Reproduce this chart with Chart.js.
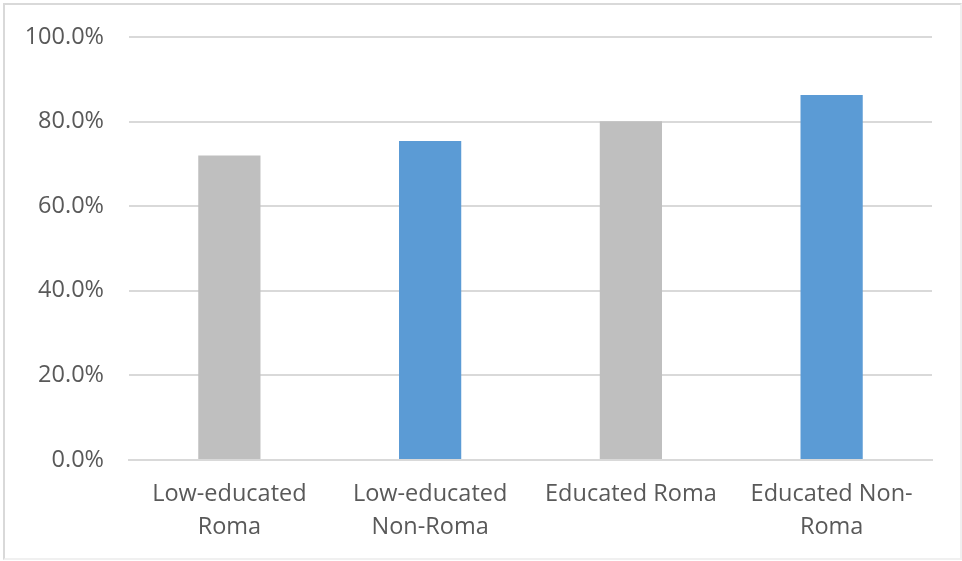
<!DOCTYPE html>
<html>
<head>
<meta charset="utf-8">
<script src="https://cdn.jsdelivr.net/npm/chart.js@4.4.1/dist/chart.umd.min.js"></script>
<style>
  html, body { margin: 0; padding: 0; background: #fff; }
  #frame {
    position: absolute; left: 3px; top: 3px; width: 955px; height: 553px;
    border: 2px solid #d9d9d9; border-right-color: #f0f0f0; border-bottom-color: #f0f0f0;
  }
  #wrap { position: absolute; left: 0; top: 0; width: 962px; height: 561px; }
</style>
</head>
<body>
<div id="frame"></div>
<div id="wrap"><canvas id="chart"></canvas></div>
<script>
// categories and values (share, %)
const categories = [
  ['Low-educated', 'Roma'],
  ['Low-educated', 'Non-Roma'],
  'Educated Roma',
  ['Educated Non-', 'Roma']
];
const shares = [72.0, 75.4, 80.1, 86.3];
const barColors = ['#bfbfbf', '#5b9bd5', '#bfbfbf', '#5b9bd5'];
const yTicks = [0, 20, 40, 60, 80, 100];

const fontFamily = '"Open Sans", "Liberation Sans", sans-serif';

new Chart(document.getElementById('chart'), {
  type: 'bar',
  data: {
    labels: categories,
    datasets: [{
      data: shares,
      backgroundColor: barColors,
      borderWidth: 0,
      categoryPercentage: 1,
      barPercentage: 0.31
    }]
  },
  options: {
    responsive: true,
    maintainAspectRatio: false,
    animation: false,
    layout: { padding: { top: 37, right: 30, bottom: 0, left: 0 } },
    plugins: {
      legend: { display: false },
      tooltip: { enabled: false }
    },
    scales: {
      x: {
        grid: { display: false, drawTicks: false },
        border: { color: '#d9d9d9', width: 2 },
        ticks: {
          color: '#595959',
          padding: 18,
          maxRotation: 0,
          autoSkip: false,
          font: { family: fontFamily, size: 23.5, lineHeight: 1.4 }
        },
        afterFit: s => { s.height = 101; }
      },
      y: {
        min: 0,
        max: 100,
        afterBuildTicks: s => { s.ticks = yTicks.map(v => ({ value: v })); },
        grid: { color: '#d9d9d9', lineWidth: 2, drawTicks: false },
        border: { display: false },
        ticks: {
          color: '#595959',
          padding: 25,
          font: { family: fontFamily, size: 23.5 },
          callback: v => v.toFixed(1) + '%'
        },
        afterFit: s => { s.width = 129; s.paddingTop = 0; s.paddingBottom = 0; }
      }
    }
  }
});
</script>
</body>
</html>
